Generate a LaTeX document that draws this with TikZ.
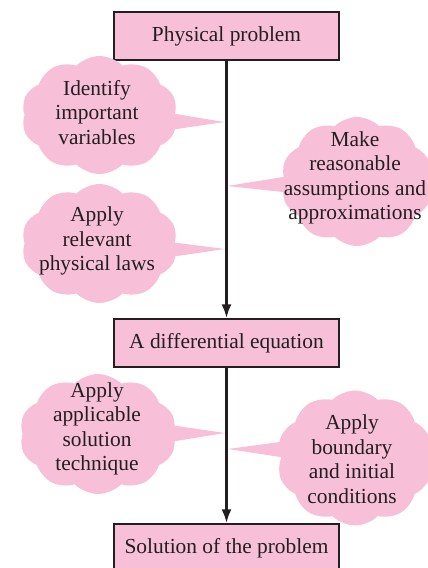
\documentclass[tikz,border=0pt]{standalone}
\usepackage{fontspec}
\setmainfont{Liberation Serif}
\usetikzlibrary{shapes,shapes.symbols,arrows.meta}

\definecolor{bubblepink}{RGB}{247,191,216}
\definecolor{inkdark}{RGB}{35,31,32}

\tikzset{
  stepbox/.style={draw=inkdark, line width=0.7pt, fill=bubblepink, text=inkdark,
    minimum width=112.5pt, minimum height=24pt, inner sep=0pt},
  bubble/.style={cloud, cloud puffs=10, cloud puff arc=90, fill=bubblepink,
    draw=none, inner sep=0pt},
  note/.style={align=center, text=inkdark, inner sep=0pt},
  flow/.style={draw=inkdark, line width=1.3pt, -{Latex[length=7pt,width=5pt]}}
}

\begin{document}
\begin{tikzpicture}[x=1pt,y=1pt,font=\fontsize{10.7}{12.25}\selectfont]
\useasboundingbox (0,0) rectangle (214,284);

\node (PP) [stepbox] at (113.25,266) {Physical problem};
\node (DE) [stepbox, node distance=153.5pt, below of=PP] {A differential equation};
\node (SP) [stepbox, node distance=102.5pt, below of=DE] {Solution of the problem};

% thought clouds
\node (c1) [bubble, minimum width=78pt, minimum height=59pt] at (49.75,226.5) {};
\node (c2) [bubble, minimum width=76pt, minimum height=64.5pt] at (178.5,193.25) {};
\node (c3) [bubble, minimum width=78pt, minimum height=59.5pt] at (49.75,162.25) {};
\node (c4) [bubble, minimum width=78.5pt, minimum height=60pt] at (49,67) {};
\node (c5) [bubble, minimum width=78pt, minimum height=67.5pt] at (177.5,55) {};

\coordinate (t1) at (112,223);
\coordinate (t2) at (113.5,191);
\coordinate (t3) at (112.5,159.5);
\coordinate (t4) at (112.5,67.5);
\coordinate (t5) at (114,59.5);

\fill[bubblepink] ([shift={(25,2.7)}]c1.center) -- (t1) -- ([shift={(25,-9)}]c1.center) -- cycle;
\fill[bubblepink] ([shift={(-27,3.85)}]c2.center) -- (t2) -- ([shift={(-27,-6.35)}]c2.center) -- cycle;
\fill[bubblepink] ([shift={(25.25,2.05)}]c3.center) -- (t3) -- ([shift={(25.25,-8.25)}]c3.center) -- cycle;
\fill[bubblepink] ([shift={(26,5.95)}]c4.center) -- (t4) -- ([shift={(26,-5.6)}]c4.center) -- cycle;
\fill[bubblepink] ([shift={(-27.5,9.35)}]c5.center) -- (t5) -- ([shift={(-27.5,-1)}]c5.center) -- cycle;

\node (n1) [note] at (48.5,227.75) {Identify\\important\\variables};
\node (n2) [note] at (177.5,195) {Make\\reasonable\\assumptions and\\approximations};
\node (n3) [note] at (48.5,163.5) {Apply\\relevant\\physical laws};
\node (n4) [note] at (48.5,69.5) {Apply\\applicable\\solution\\technique};
\node (n5) [note] at (176,54.5) {Apply\\boundary\\and initial\\conditions};

\draw [flow] (PP) -- (DE);
\draw [flow] (DE) -- (SP);

\end{tikzpicture}
\end{document}
